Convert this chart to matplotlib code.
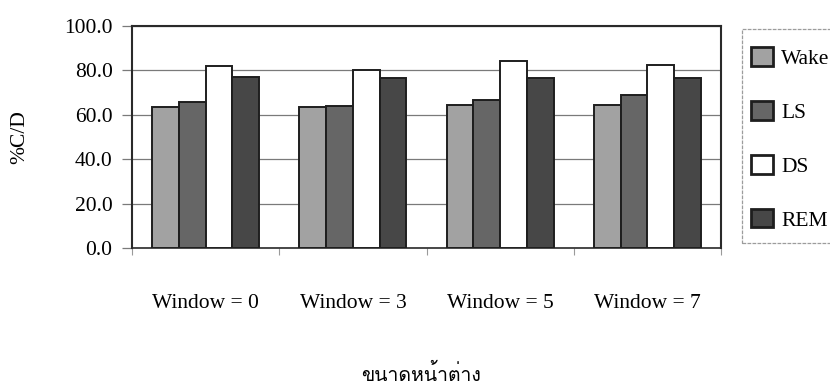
import numpy as np
import matplotlib
matplotlib.use("Agg")
import matplotlib.pyplot as plt
from matplotlib import font_manager
from matplotlib.ft2font import FT2Font
from matplotlib.patches import Rectangle

categories = ["Window = 0", "Window = 3", "Window = 5", "Window = 7"]
series_names = ["Wake", "LS", "DS", "REM"]
wake = [63.6, 63.4, 64.3, 64.3]
ls = [65.6, 64.1, 66.8, 68.8]
ds = [82.1, 80.0, 84.2, 82.4]
rem = [76.9, 76.7, 76.8, 76.8]
y_ticks = [0.0, 20.0, 40.0, 60.0, 80.0, 100.0]
x_title = "ขนาดหน้าต่าง"
y_title = "%C/D"

fills = ["#a2a2a2", "#666666", "#ffffff", "#474747"]

serif = "Liberation Serif"


def thai_family():
    """Return an installed family that covers Thai script, if any."""
    for f in font_manager.fontManager.ttflist:
        try:
            cmap = FT2Font(f.fname).get_charmap()
        except Exception:
            continue
        if 0x0E02 in cmap and 0x0E19 in cmap:
            return f.name
    return None


thai = thai_family()
thai_fams = [thai, serif] if thai else [serif, "DejaVu Sans"]

plt.rcParams["font.family"] = [serif, "DejaVu Sans"]
fs = 15.5

fig = plt.figure(figsize=(8.30, 3.88), dpi=100)
W, H = 830, 388
ax = fig.add_axes([132 / W, 1 - 248 / H, (721 - 132) / W, (248 - 26) / H])

n_series = len(series_names)
gap = 1.5
bw = 1.0 / (n_series + gap)
x = np.arange(len(categories))
data = [wake, ls, ds, rem]
handles = []
for i, (vals, col) in enumerate(zip(data, fills)):
    off = (i - (n_series - 1) / 2) * bw
    b = ax.bar(x + off, vals, width=bw, color=col, edgecolor="#1e1e1e",
               linewidth=1.4, zorder=3, label=series_names[i])
    handles.append(b)

ax.set_xlim(-0.5, len(categories) - 0.5)
ax.set_ylim(0, 100)
ax.set_yticks(y_ticks)
ax.set_yticklabels([f"{v:.1f}" for v in y_ticks], fontsize=fs)
ax.yaxis.grid(True, color="#7a7a7a", linewidth=0.9, zorder=0)
ax.tick_params(axis="y", length=7, width=0.9, color="#7a7a7a", pad=7)

ax.set_xticks(x)
ax.set_xticklabels(categories, fontsize=fs)
ax.tick_params(axis="x", which="major", length=0, pad=33)
ax.set_xticks(np.arange(len(categories) + 1) - 0.5, minor=True)
ax.tick_params(axis="x", which="minor", length=5, width=0.8, color="#9a9a9a")

for side in ["left", "top", "right", "bottom"]:
    ax.spines[side].set_color("#2a2a2a")
    ax.spines[side].set_linewidth(1.5)
ax.spines["bottom"].set_linewidth(1.2)

fig.text(20 / W, 1 - 137 / H, y_title, rotation=90, ha="center", va="center",
         fontsize=fs)
fig.text(421 / W, 1 - 374 / H, x_title, ha="center", va="center",
         fontsize=14, family=thai_fams)

# legend frame
fig.patches.append(Rectangle((742 / W, 1 - 243 / H), 120 / W, (243 - 29) / H,
                             transform=fig.transFigure, facecolor="none",
                             edgecolor="#9c9c9c", linewidth=0.9,
                             linestyle=(0, (3, 1))))
leg = fig.legend(handles=handles, labels=series_names, loc="upper left",
                 bbox_to_anchor=(751 / W, 1 - 47 / H), frameon=False,
                 fontsize=fs, handlelength=1.0, handleheight=0.95,
                 handletextpad=0.4, labelspacing=1.5, borderpad=0,
                 borderaxespad=0)
for p in leg.get_patches():
    p.set_linewidth(2.0)

fig.savefig("out.png", dpi=100)
